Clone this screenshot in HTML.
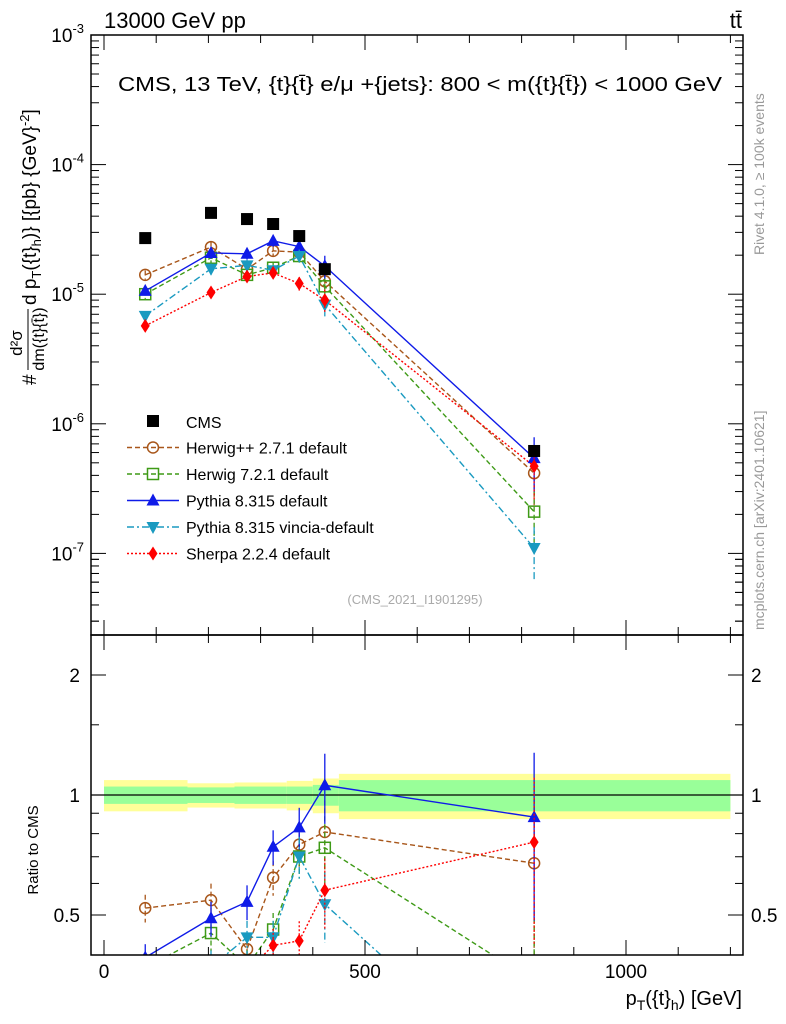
<!DOCTYPE html>
<html><head><meta charset="utf-8"><style>
html,body{margin:0;padding:0;background:#fff;overflow:hidden;width:786px;height:1024px;}
svg{display:block;font-family:"Liberation Sans",sans-serif;}
</style></head><body>
<svg id="c" width="786" height="1024" viewBox="0 0 786 1024">
<defs>
<clipPath id="ctop"><rect x="91" y="35" width="652" height="600"/></clipPath>
<clipPath id="crat"><rect x="91" y="635" width="652" height="320"/></clipPath>
</defs>
<g id="bands" clip-path="url(#crat)"></g>
<g id="topg" clip-path="url(#ctop)"></g>
<g id="ratg" clip-path="url(#crat)"></g>
<g id="axes"></g>
<text x="104" y="28" font-size="22">13000 GeV pp</text>
<text x="742" y="28" font-size="22" text-anchor="end">tt̄</text>
<text x="722" y="91" font-size="20" text-anchor="end" textLength="604" lengthAdjust="spacingAndGlyphs">CMS, 13 TeV, {t}{t̄} e/μ +{jets}: 800 &lt; m({t}{t̄}) &lt; 1000 GeV</text>
<text x="415" y="604" font-size="13" fill="#aaa" text-anchor="middle">(CMS_2021_I1901295)</text>
<text transform="translate(764,255) rotate(-90)" font-size="14" fill="#999">Rivet 4.1.0, ≥ 100k events</text>
<text transform="translate(764,630) rotate(-90)" font-size="14" fill="#999">mcplots.cern.ch [arXiv:2401.10621]</text>
<g transform="translate(36,385) rotate(-90)">
<text x="0" y="0" font-size="19">#</text>
<text x="42" y="-14" font-size="17" text-anchor="middle">d²σ</text>
<line x1="15" x2="76" y1="-8" y2="-8" stroke="#000" stroke-width="1"/>
<text x="46" y="8" font-size="16" text-anchor="middle">dm({t}{t̄})</text>
<text x="80" y="0" font-size="19">d p<tspan font-size="13" dy="5">T</tspan><tspan dy="-5">({t}</tspan><tspan font-size="13" dy="5">h</tspan><tspan dy="-5">)} [{pb} {GeV}</tspan><tspan font-size="13" dy="-7">-2</tspan><tspan dy="7">]</tspan></text>
</g>
<text transform="translate(38,850) rotate(-90)" font-size="15" text-anchor="middle">Ratio to CMS</text>
<text x="742" y="1005" font-size="20" text-anchor="end">p<tspan font-size="14" dy="5">T</tspan><tspan dy="-5">({t}</tspan><tspan font-size="14" dy="5">h</tspan><tspan dy="-5">) [GeV]</tspan></text>
<g id="legend"></g>
</svg>
<script>
const xvals=[79,205,274,324,374,423,824];
const binEdges=[0,160,250,350,400,450,1200];
const cmsVals=[2.71e-5,4.24e-5,3.8e-5,3.48e-5,2.81e-5,1.56e-5,6.17e-7];
const cmsErrRel=[0.05,0.05,0.05,0.05,0.05,0.08,0.08];
const bandInner=[0.05,0.045,0.05,0.05,0.06,0.09];
const bandOuter=[0.09,0.07,0.075,0.085,0.1,0.13];
const herwigpp=[1.41e-5,2.31e-5,1.56e-5,2.16e-5,2.11e-5,1.26e-5,4.16e-7];
const herwig7=[1.0e-5,1.91e-5,1.41e-5,1.6e-5,1.97e-5,1.15e-5,2.1e-7];
const pythia=[1.06e-5,2.08e-5,2.05e-5,2.58e-5,2.33e-5,1.65e-5,5.43e-7];
const vincia=[6.8e-6,1.57e-5,1.67e-5,1.53e-5,1.97e-5,8.3e-6,1.1e-7];
const sherpa=[5.7e-6,1.03e-5,1.37e-5,1.46e-5,1.21e-5,9.0e-6,4.7e-7];
const mcErrRel=[0.08,0.1,0.1,0.1,0.12,0.2,0.45];
const yTopTicks=[-3,-4,-5,-6,-7];
const ratioTicks=[0.5,1,2];
const xTicks=[0,500,1000];

const NS="http://www.w3.org/2000/svg";
const X=v=>104+v*0.522;
const Y=v=>35-(Math.log10(v)+3)*129.6;
const R=r=>795-Math.log2(r)*120;
function el(tag,at,par){const e=document.createElementNS(NS,tag);for(const k in at)e.setAttribute(k,at[k]);par.appendChild(e);return e;}
const topg=document.getElementById('topg'),ratg=document.getElementById('ratg'),bands=document.getElementById('bands'),axes=document.getElementById('axes'),leg=document.getElementById('legend');

for(let i=0;i<binEdges.length-1;i++){
 const x1=X(binEdges[i]),x2=X(binEdges[i+1]);
 let r=el('rect',{x:x1,y:R(1+bandOuter[i]),width:x2-x1,height:R(1-bandOuter[i])-R(1+bandOuter[i]),fill:'#ffff99'},bands);
 
 
 let g=el('rect',{x:x1,y:R(1+bandInner[i]),width:x2-x1,height:R(1-bandInner[i])-R(1+bandInner[i]),fill:'#99ff99'},bands);
 
 
}
el('line',{x1:91,x2:743,y1:R(1),y2:R(1),stroke:'#000','stroke-width':1.2},bands);

function marker(par,type,x,y,col){
 const s=6;
 if(type==='sq')return el('rect',{x:x-s,y:y-s,width:2*s,height:2*s,fill:'#000'},par);
 if(type==='circ')return el('circle',{cx:x,cy:y,r:5.5,fill:'none',stroke:col,'stroke-width':1.5},par);
 if(type==='osq')return el('rect',{x:x-5.5,y:y-5.5,width:11,height:11,fill:'none',stroke:col,'stroke-width':1.5},par);
 if(type==='tri')return el('polygon',{points:`${x},${y-7} ${x-6.5},${y+5} ${x+6.5},${y+5}`,fill:col},par);
 if(type==='itri')return el('polygon',{points:`${x},${y+7} ${x-6.5},${y-5} ${x+6.5},${y-5}`,fill:col},par);
 if(type==='dia')return el('polygon',{points:`${x},${y-7} ${x-4.5},${y} ${x},${y+7} ${x+4.5},${y}`,fill:col},par);
}
const series=[
 {name:'Herwig++ 2.7.1 default',vals:herwigpp,col:'#a8561a',dash:'5,3',m:'circ',key:'herwigpp'},
 {name:'Herwig 7.2.1 default',vals:herwig7,col:'#3e9a16',dash:'5,3',m:'osq',key:'herwig7'},
 {name:'Pythia 8.315 default',vals:pythia,col:'#0f1be8',dash:'',m:'tri',key:'pythia'},
 {name:'Pythia 8.315 vincia-default',vals:vincia,col:'#1a9ac0',dash:'7,3,2,3',m:'itri',key:'vincia'},
 {name:'Sherpa 2.2.4 default',vals:sherpa,col:'#ff0000',dash:'2,2',m:'dia',key:'sherpa'}
];
series.forEach(s=>{
 const pts=s.vals.map((v,i)=>X(xvals[i])+','+Y(v)).join(' ');
 const pl=el('polyline',{points:pts,fill:'none',stroke:s.col,'stroke-width':1.4,'stroke-dasharray':s.dash},topg);
 
 
 const rp=s.vals.map((v,i)=>X(xvals[i])+','+R(v/cmsVals[i])).join(' ');
 const rl=el('polyline',{points:rp,fill:'none',stroke:s.col,'stroke-width':1.4,'stroke-dasharray':s.dash},ratg);
 
 
 s.vals.forEach((v,i)=>{
  const x=X(xvals[i]),e=mcErrRel[i];
  el('line',{x1:x,x2:x,y1:Y(v*(1+e)),y2:Y(v*(1-e)),stroke:s.col,'stroke-width':1.3,'stroke-dasharray':s.dash},topg);
  const m=marker(topg,s.m,x,Y(v),s.col);
  
  
  const r=v/cmsVals[i];
  el('line',{x1:x,x2:x,y1:R(r*(1+e)),y2:R(r*(1-e)),stroke:s.col,'stroke-width':1.3,'stroke-dasharray':s.dash},ratg);
  const rm=marker(ratg,s.m,x,R(r),s.col);
  
  
 });
});
cmsVals.forEach((v,i)=>{
 const x=X(xvals[i]);
 el('line',{x1:x,x2:x,y1:Y(v*(1+cmsErrRel[i])),y2:Y(v*(1-cmsErrRel[i])),stroke:'#000'},topg);
 const m=marker(topg,'sq',x,Y(v),'#000');
 
 
});

[[35,600],[635,320]].forEach(([y,h])=>el('rect',{x:91,y:y,width:652,height:h,fill:'none',stroke:'#000','stroke-width':1.5},axes));
yTopTicks.forEach(p=>{
 const y=Y(Math.pow(10,p));
 el('line',{x1:91,x2:106,y1:y,y2:y,stroke:'#000'},axes);
 el('line',{x1:728,x2:743,y1:y,y2:y,stroke:'#000'},axes);
 const t=el('text',{x:84,y:y+7,'font-size':19,'text-anchor':'end'},axes);
 t.innerHTML='10<tspan font-size="13" dy="-9">'+p+'</tspan>';
 
 
 for(let k=2;k<10;k++){const yy=Y(k*Math.pow(10,p-1));if(yy<635){el('line',{x1:91,x2:99,y1:yy,y2:yy,stroke:'#000'},axes);el('line',{x1:735,x2:743,y1:yy,y2:yy,stroke:'#000'},axes);}}
});
for(let k=3;k<10;k++){const yy=Y(k*1e-8);if(yy<635){el('line',{x1:91,x2:99,y1:yy,y2:yy,stroke:'#000'},axes);el('line',{x1:735,x2:743,y1:yy,y2:yy,stroke:'#000'},axes);}}
ratioTicks.forEach(r=>{
 const y=R(r);
 el('line',{x1:91,x2:106,y1:y,y2:y,stroke:'#000'},axes);
 el('line',{x1:728,x2:743,y1:y,y2:y,stroke:'#000'},axes);
 const t=el('text',{x:80,y:y+7,'font-size':19,'text-anchor':'end'},axes);t.textContent=r;
 
 
 const t2=el('text',{x:751,y:y+7,'font-size':19},axes);t2.textContent=r;
 
 
});
[0.6,0.7,0.8,0.9,1.5].forEach(r=>{const y=R(r);el('line',{x1:91,x2:99,y1:y,y2:y,stroke:'#000'},axes);el('line',{x1:735,x2:743,y1:y,y2:y,stroke:'#000'},axes);});
for(let v=0;v<=1200;v+=100){
 const x=X(v),maj=v%500===0;const L=maj?15:8;
 [[35,1],[635,1],[635,-1],[955,-1]].forEach(([y,d])=>el('line',{x1:x,x2:x,y1:y,y2:y+d*L,stroke:'#000'},axes));
}
xTicks.forEach(v=>{const t=el('text',{x:X(v),y:978,'font-size':19,'text-anchor':'middle'},axes);t.textContent=v;
 
 });

const ly0=421,ldy=26.5;
marker(leg,'sq',153,ly0,'#000');
let t=el('text',{x:186,y:ly0+7,'font-size':16},leg);t.textContent='CMS';


series.forEach((s,i)=>{
 const y=ly0+ldy*(i+1);
 el('line',{x1:127,x2:179,y1:y,y2:y,stroke:s.col,'stroke-width':1.4,'stroke-dasharray':s.dash},leg);
 marker(leg,s.m,153,y,s.col);
 const tt=el('text',{x:186,y:y+6,'font-size':16},leg);tt.textContent=s.name;
 
 
});
</script>
</body></html>
